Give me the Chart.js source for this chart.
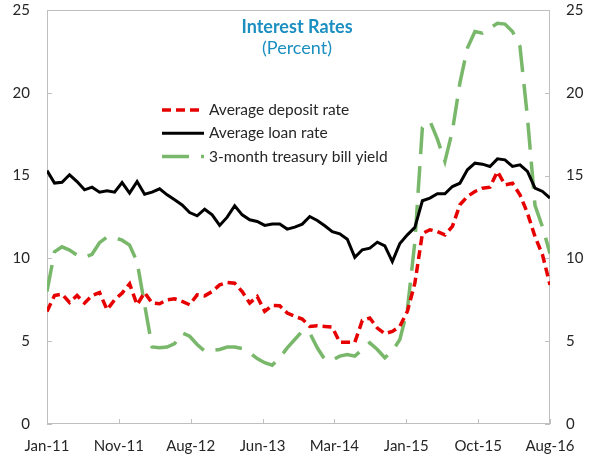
<!DOCTYPE html>
<html>
<head>
<meta charset="utf-8">
<script src="https://cdn.jsdelivr.net/npm/chart.js@4.4.1/dist/chart.umd.min.js"></script>
<style>
  html, body { margin: 0; padding: 0; background: #fff; }
  #wrap { width: 592px; height: 459px; }
</style>
</head>
<body>
<div id="wrap"><canvas id="rates-chart" width="592" height="459"></canvas></div>
<script>
// monthly, Jan-11 .. Aug-16
const depositRate = [6.8, 7.76, 7.85, 7.34, 7.76, 7.3, 7.76, 7.94, 6.9, 7.5,
    7.9, 8.47, 7.2, 7.94, 7.3, 7.26, 7.5, 7.56, 7.4, 7.2,
    7.8, 7.74, 8.0, 8.4, 8.55, 8.5, 8.0, 7.3, 7.7, 6.8,
    7.16, 7.14, 6.7, 6.5, 6.34, 5.89, 5.93, 5.89, 5.85, 4.93,
    4.93, 4.93, 6.25, 6.4, 5.79, 5.45, 5.59, 5.9, 6.8, 8.5,
    11.5, 11.73, 11.62, 11.42, 11.93, 13.24, 13.74, 14.04, 14.24, 14.3,
    15.25, 14.44, 14.54, 13.84, 12.73, 11.32, 10.22, 8.4];
const loanRate = [15.3, 14.55, 14.6, 15.05, 14.64, 14.14, 14.3, 14.0, 14.08, 14.0,
    14.58, 13.94, 14.64, 13.88, 14.0, 14.2, 13.84, 13.54, 13.23, 12.77,
    12.57, 12.97, 12.63, 11.99, 12.49, 13.18, 12.63, 12.33, 12.23, 11.99,
    12.07, 12.07, 11.77, 11.89, 12.07, 12.53, 12.29, 11.97, 11.62, 11.48,
    11.16, 10.06, 10.52, 10.62, 10.98, 10.76, 9.81, 10.9, 11.42, 11.87,
    13.48, 13.64, 13.9, 13.9, 14.34, 14.54, 15.35, 15.75, 15.69, 15.55,
    16.01, 15.95, 15.55, 15.65, 15.25, 14.24, 14.04, 13.64];
const tbillYield = [8.0, 10.4, 10.7, 10.5, 10.2, 10.05, 10.25, 10.95, 11.3, 11.25,
    11.1, 10.8, 9.8, 7.2, 4.65, 4.6, 4.65, 4.85, 5.5, 5.3,
    4.8, 4.4, 4.45, 4.5, 4.65, 4.65, 4.55, 4.3, 3.95, 3.7,
    3.55, 4.0, 4.6, 5.1, 5.6, 5.5, 4.6, 3.9, 3.85, 4.1,
    4.2, 4.1, 4.5, 4.9, 4.5, 4.0, 4.4, 5.1, 6.9, 11.0,
    17.9, 18.3, 17.2, 15.85, 17.7, 20.6, 22.7, 23.7, 23.6, 23.9,
    24.2, 24.15, 23.7, 22.8, 18.5, 13.2, 11.9, 10.3];
const tickLabels = ['Jan-11', 'Nov-11', 'Aug-12', 'Jun-13', 'Mar-14', 'Jan-15', 'Oct-15', 'Aug-16'];
const seriesNames = ['Average deposit rate', 'Average loan rate', '3-month treasury bill yield'];

const FONT = 'Lato, "Open Sans", sans-serif';
const TEXT = '#262626';
const AXIS = '#bfbfbf';
const lastIdx = depositRate.length - 1;

const toPoints = (arr) => arr.map((v, i) => ({ x: i, y: v }));

// keep the plot area where the reference has it
function fixSize(prop, size) {
    return (scale) => {
        scale[prop] = size;
        scale.paddingTop = 0;
        scale.paddingBottom = 0;
        scale.paddingLeft = 0;
        scale.paddingRight = 0;
    };
}

// title, legend, plot frame and inward tick marks
const decorations = {
    id: 'decorations',
    beforeDatasetsDraw(chart) {
        const { ctx, chartArea: a, scales } = chart;
        ctx.save();
        ctx.strokeStyle = AXIS;
        ctx.lineWidth = 1;
        ctx.strokeRect(a.left + 0.5, a.top + 0.5, a.right - a.left - 1, a.bottom - a.top - 1);
        ctx.beginPath();
        scales.x.ticks.forEach((t) => {
            const px = Math.round(scales.x.getPixelForValue(t.value)) + 0.5;
            ctx.moveTo(px, a.bottom);
            ctx.lineTo(px, a.bottom - 5);
        });
        scales.y.ticks.forEach((t) => {
            const py = Math.round(scales.y.getPixelForValue(t.value)) + 0.5;
            ctx.moveTo(a.left, py);
            ctx.lineTo(a.left + 5, py);
            ctx.moveTo(a.right, py);
            ctx.lineTo(a.right - 5, py);
        });
        ctx.stroke();
        ctx.restore();
    },
    afterDraw(chart) {
        const { ctx } = chart;
        ctx.save();
        ctx.fillStyle = '#1b8fc0';
        ctx.textAlign = 'center';
        ctx.textBaseline = 'middle';
        ctx.font = 'bold 18px ' + FONT;
        ctx.fillText('Interest Rates', 297, 27);
        ctx.font = '18px ' + FONT;
        ctx.fillText('(Percent)', 297, 48);

        chart.data.datasets.forEach((ds, i) => {
            const y = 110 + i * 23.3;
            ctx.beginPath();
            ctx.setLineDash(ds.borderDash || []);
            ctx.lineWidth = ds.borderWidth;
            ctx.strokeStyle = ds.borderColor;
            ctx.lineCap = 'butt';
            ctx.moveTo(162, y);
            ctx.lineTo(204, y);
            ctx.stroke();
            ctx.setLineDash([]);
            ctx.fillStyle = TEXT;
            ctx.textAlign = 'left';
            ctx.font = '15.5px ' + FONT;
            ctx.fillText(ds.label, 209, y);
        });
        ctx.restore();
    },
};

new Chart(document.getElementById('rates-chart'), {
    type: 'line',
    data: {
        datasets: [
            {
                label: seriesNames[0],
                data: toPoints(depositRate),
                borderColor: '#e60000',
                borderWidth: 3.5,
                borderDash: [9, 5],
                pointRadius: 0,
                tension: 0,
            },
            {
                label: seriesNames[1],
                data: toPoints(loanRate),
                borderColor: '#000000',
                borderWidth: 3,
                pointRadius: 0,
                tension: 0,
            },
            {
                label: seriesNames[2],
                data: toPoints(tbillYield),
                borderColor: '#79b86b',
                borderWidth: 3.5,
                borderDash: [27, 12],
                pointRadius: 0,
                tension: 0,
            },
        ],
    },
    options: {
        responsive: false,
        animation: false,
        layout: { padding: { top: 10, left: 0, right: 0, bottom: 0 } },
        plugins: {
            legend: { display: false },
            tooltip: { enabled: false },
        },
        scales: {
            x: {
                type: 'linear',
                min: 0,
                max: lastIdx,
                grid: { display: false, drawTicks: false },
                border: { display: false },
                afterBuildTicks(scale) {
                    scale.ticks = tickLabels.map((_, k) => ({ value: (k * lastIdx) / (tickLabels.length - 1) }));
                },
                afterFit: fixSize('height', 35),
                ticks: {
                    autoSkip: false,
                    maxRotation: 0,
                    padding: 13,
                    color: TEXT,
                    font: { family: FONT, size: 15 },
                    callback: (value, index) => tickLabels[index],
                },
            },
            y: {
                position: 'left',
                min: 0,
                max: 25,
                grid: { display: false, drawTicks: false },
                border: { display: false },
                afterFit: fixSize('width', 47),
                ticks: {
                    stepSize: 5,
                    padding: 17,
                    color: TEXT,
                    font: { family: FONT, size: 15 },
                },
            },
            y2: {
                position: 'right',
                min: 0,
                max: 25,
                grid: { display: false, drawTicks: false },
                border: { display: false },
                afterFit: fixSize('width', 42),
                ticks: {
                    stepSize: 5,
                    padding: 16,
                    color: TEXT,
                    font: { family: FONT, size: 15 },
                },
            },
        },
    },
    plugins: [decorations],
});
</script>
</body>
</html>
